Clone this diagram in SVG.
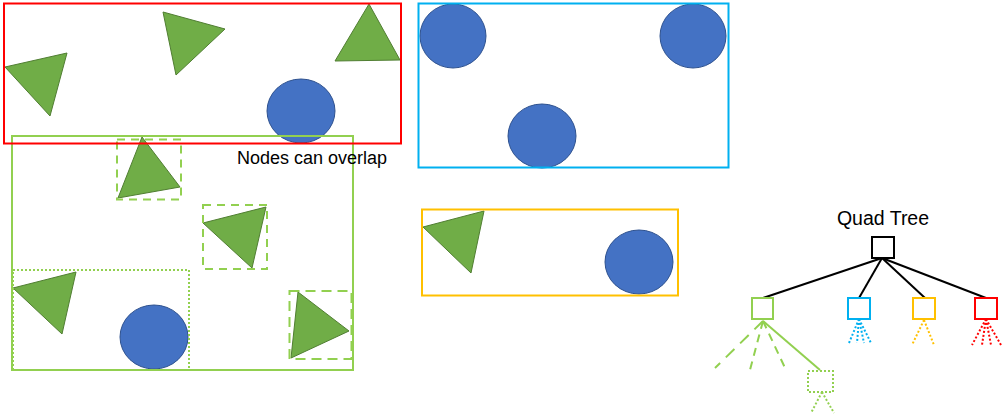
<svg xmlns="http://www.w3.org/2000/svg" width="1004" height="418" viewBox="0 0 1004 418">
<style>
.tri{fill:#70AD47;stroke:#507E32;stroke-width:1}
.cir{fill:#4472C4;stroke:#2F528F;stroke-width:1}
.box{fill:none;stroke-width:2}
.g{stroke:#92D050}
.r{stroke:#FF0000}
.b{stroke:#00B0F0}
.o{stroke:#FFC000}
.k{stroke:#000000}
.dash{stroke-dasharray:8 6}
.dot{stroke-dasharray:2 2}
.lbl{font-family:"Liberation Sans",Arial,sans-serif;font-size:18px;fill:#000}
.edge{fill:none;stroke-width:2}
.wf{fill:#fff}
</style>
<rect width="1004" height="418" fill="#fff"/>
<g id="region-red">
<polygon class="tri" points="5,67 67,53 50,116"/>
<polygon class="tri" points="163,12 225,29 176,75"/>
<polygon class="tri" points="369,4 400,60 335,61"/>
<ellipse class="cir" cx="301" cy="111" rx="34" ry="32"/>
</g>
<g id="region-blue">
<ellipse class="cir" cx="453" cy="36" rx="33" ry="32"/>
<ellipse class="cir" cx="693" cy="36" rx="33" ry="32"/>
<ellipse class="cir" cx="542" cy="136" rx="34" ry="32"/>
<rect class="box b" x="418.5" y="3.5" width="310" height="164"/>
</g>
<g id="region-orange">
<polygon class="tri" points="423,227 484,211 471,273"/>
<ellipse class="cir" cx="639" cy="262" rx="34" ry="32"/>
<rect class="box o" x="422" y="209.5" width="256" height="86"/>
</g>
<g id="region-green">
<polygon class="tri" points="142,137 180,187 118,198"/>
<polygon class="tri" points="203,223 266,207 252,268"/>
<polygon class="tri" points="298,292 349,331 291,358"/>
<polygon class="tri" points="13,288 76,272 62,334"/>
<ellipse class="cir" cx="154" cy="337" rx="34" ry="32"/>
<rect class="box g dash" x="117" y="139.5" width="64" height="60"/>
<rect class="box g dash" x="203" y="205" width="64" height="64"/>
<rect class="box g dash" x="289.5" y="291" width="62" height="68" style="stroke-dasharray:10 6"/>
<rect class="box g dot" x="13" y="270" width="176" height="100"/>
<rect class="box g" x="12" y="136" width="341" height="234"/>
</g>
<g id="region-red-frame">
<rect class="box r" x="4" y="3.5" width="397" height="140"/>
</g>
<g id="label-overlap">
<text class="lbl" x="237" y="164">Nodes can overlap</text>
</g>
<g id="connectors">
<line class="edge k" x1="882" y1="258" x2="763" y2="298"/>
<line class="edge k" x1="882" y1="258" x2="859" y2="298"/>
<line class="edge k" x1="882" y1="258" x2="925" y2="298"/>
<line class="edge k" x1="882" y1="258" x2="986" y2="298"/>
<line class="edge g" x1="763" y1="321" x2="715" y2="368" style="stroke-dasharray:12 8"/>
<line class="edge g" x1="763" y1="321" x2="750" y2="370" style="stroke-dasharray:8 6"/>
<line class="edge g" x1="763" y1="321" x2="786" y2="370" style="stroke-dasharray:8 6"/>
<line class="edge g" x1="763" y1="321" x2="820" y2="370"/>
<line class="edge g dot" x1="822" y1="392" x2="811" y2="413"/>
<line class="edge g dot" x1="822" y1="392" x2="834" y2="413"/>
<line class="edge b dot" x1="859" y1="319" x2="849" y2="343"/>
<line class="edge b dot" x1="859" y1="319" x2="857" y2="343"/>
<line class="edge b dot" x1="859" y1="319" x2="864" y2="343"/>
<line class="edge b dot" x1="859" y1="319" x2="871" y2="343"/>
<line class="edge o dot" x1="924" y1="320" x2="912" y2="345"/>
<line class="edge o dot" x1="924" y1="320" x2="934" y2="345"/>
<line class="edge r dot" x1="986" y1="319" x2="972" y2="345"/>
<line class="edge r dot" x1="986" y1="319" x2="982" y2="345"/>
<line class="edge r dot" x1="986" y1="319" x2="991" y2="345"/>
<line class="edge r dot" x1="986" y1="319" x2="1001" y2="345"/>
</g>
<g id="tree-label">
<text class="lbl" x="883" y="225" text-anchor="middle" style="font-size:19.5px">Quad Tree</text>
</g>
<g id="tree-root"><rect class="box k wf" x="872" y="237" width="22" height="21"/></g>
<g id="tree-green"><rect class="box g wf" x="752" y="298" width="21" height="21"/></g>
<g id="tree-blue"><rect class="box b wf" x="848" y="298" width="22" height="21"/></g>
<g id="tree-orange"><rect class="box o wf" x="913" y="298" width="22" height="21"/></g>
<g id="tree-red"><rect class="box r wf" x="975" y="298" width="22" height="21"/></g>
<g id="tree-green-sub"><rect class="box g dot wf" x="808" y="371" width="25" height="21"/></g>
</svg>
